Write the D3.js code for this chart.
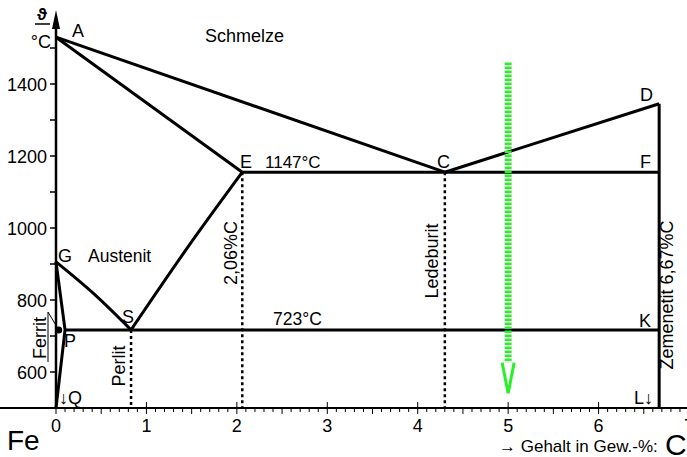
<!DOCTYPE html>
<html>
<head>
<meta charset="utf-8">
<script src="https://cdn.jsdelivr.net/npm/d3@7"></script>
<style>
  body { margin: 0; background: #fff; }
  text { font-family: "Liberation Sans", Arial, sans-serif; fill: #000; }
</style>
</head>
<body>
<div id="chart"></div>
<script>
// Eisen-Kohlenstoff-Diagramm (Ausschnitt)
const xTicks = [0, 1, 2, 3, 4, 5, 6, 7];
const yTicks = [600, 800, 1000, 1200, 1400];

// phase boundaries as drawn: [C-Gehalt %, Temperatur °C]
const lineAC = [[0, 1530], [4.3, 1155]];
const lineCD = [[4.3, 1155], [6.67, 1345]];
const lineAE = [[0, 1530], [2.06, 1155]];
const lineEF = [[2.06, 1155], [6.67, 1155]];
const lineSE = [[0.83, 717], [1.45, 944], [2.06, 1155]];
const lineGS = [[0, 906], [0.42, 817], [0.83, 717]];
const lineGPQ = [[0, 906], [0.1, 717], [0, 500]];
const linePK = [[0.1, 717], [6.67, 717]];
const lineDL = [[6.67, 1345], [6.67, 500]];
const dottedAt = [[0.83, 717], [2.06, 1155], [4.3, 1155]];
const greenPath = [[5, 1460], [5, 626]];

const width = 687, height = 457;

const svg = d3.select("#chart")
    .append("svg")
    .attr("width", width)
    .attr("height", height);

const x = d3.scaleLinear().domain([0, 7]).range([56, 689]);
const y = d3.scaleLinear().domain([500, 1600]).range([408, 12]);

const line = d3.line().x(d => x(d[0])).y(d => y(d[1]));
const curve = d3.line().x(d => x(d[0])).y(d => y(d[1])).curve(d3.curveNatural);

// x axis with minor ticks
svg.append("line")
    .attr("x1", 0).attr("x2", width)
    .attr("y1", y(500)).attr("y2", y(500))
    .attr("stroke", "#000").attr("stroke-width", 2);

const minor = d3.range(0, 71).map(i => i / 10);
svg.append("g").selectAll("line")
    .data(minor)
    .enter().append("line")
    .attr("x1", d => x(d)).attr("x2", d => x(d))
    .attr("y1", d => Math.abs(d - Math.round(d)) < 1e-6 ? y(500) - 6 : y(500))
    .attr("y2", d => Math.abs(d * 2 - Math.round(d * 2)) < 1e-6 ? y(500) + 6 : y(500) + 4)
    .attr("stroke", "#000").attr("stroke-width", 1);

svg.append("g").selectAll("text")
    .data(xTicks)
    .enter().append("text")
    .attr("x", d => x(d))
    .attr("y", 432)
    .attr("text-anchor", "middle")
    .style("font-size", "18px")
    .text(d => d);

// y axis
svg.append("line")
    .attr("x1", x(0)).attr("x2", x(0))
    .attr("y1", y(500)).attr("y2", 26)
    .attr("stroke", "#000").attr("stroke-width", 2.5);
svg.append("path")
    .attr("d", `M${x(0)},10 L${x(0) - 4},29 L${x(0) + 4},29 Z`)
    .attr("fill", "#000");

svg.append("g").selectAll("line")
    .data(d3.range(600, 1600, 100))
    .enter().append("line")
    .attr("x1", x(0) - 6).attr("x2", x(0))
    .attr("y1", d => y(d)).attr("y2", d => y(d))
    .attr("stroke", "#000").attr("stroke-width", 1.5);

svg.append("g").selectAll("text")
    .data(yTicks)
    .enter().append("text")
    .attr("x", 47)
    .attr("y", d => y(d) + 6.5)
    .attr("text-anchor", "end")
    .style("font-size", "18px")
    .text(d => d);

svg.append("text").attr("x", 42).attr("y", 20).attr("text-anchor", "middle")
    .style("font-size", "17px").style("font-weight", "bold").text("ϑ");
svg.append("line").attr("x1", 35).attr("x2", 50).attr("y1", 24).attr("y2", 24)
    .attr("stroke", "#000").attr("stroke-width", 1.5);
svg.append("text").attr("x", 51).attr("y", 48).attr("text-anchor", "end")
    .style("font-size", "18px").text("°C");

// dotted verticals
svg.append("g").selectAll("line")
    .data(dottedAt)
    .enter().append("line")
    .attr("x1", d => x(d[0])).attr("x2", d => x(d[0]))
    .attr("y1", d => y(d[1])).attr("y2", y(500))
    .attr("stroke", "#000").attr("stroke-width", 2.5)
    .attr("stroke-dasharray", "3,3");

// phase lines
const straight = [lineAC, lineCD, lineAE, lineEF, lineGPQ, linePK, lineDL];
svg.append("g").selectAll("path")
    .data(straight)
    .enter().append("path")
    .attr("d", line)
    .attr("fill", "none")
    .attr("stroke", "#000").attr("stroke-width", 3)
    .attr("stroke-linejoin", "miter");

svg.append("g").selectAll("path")
    .data([lineSE, lineGS])
    .enter().append("path")
    .attr("d", curve)
    .attr("fill", "none")
    .attr("stroke", "#000").attr("stroke-width", 3);

// Ferrit dot and leader
svg.append("circle").attr("cx", x(0.03)).attr("cy", y(717)).attr("r", 3.5).attr("fill", "#000");
svg.append("path")
    .attr("d", `M${x(0.03)},${y(717)} L48,312 L48,362`)
    .attr("fill", "none").attr("stroke", "#000").attr("stroke-width", 1);

// green path
svg.append("path")
    .attr("d", line(greenPath))
    .attr("stroke", "#2af02a").attr("stroke-width", 7)
    .attr("stroke-dasharray", "2.5,1.5");
svg.append("path")
    .attr("d", `M${x(5) - 6},${y(626)} L${x(5)},${y(541)} L${x(5) + 6},${y(626)}`)
    .attr("fill", "none")
    .attr("stroke", "#2af02a").attr("stroke-width", 3);

// point labels
const pts = [
    ["A", 72, 37], ["D", 640, 101], ["E", 240, 168], ["C", 437, 168], ["F", 640, 168],
    ["G", 58, 262], ["S", 122, 323], ["K", 639, 327], ["P", 64, 347]
];
svg.append("g").selectAll("text")
    .data(pts)
    .enter().append("text")
    .attr("x", d => d[1]).attr("y", d => d[2])
    .style("font-size", "18px")
    .text(d => d[0]);

const labels = [
    ["Schmelze", 205, 42, 18], ["1147°C", 265, 168, 17], ["Austenit", 88, 262, 17.5],
    ["723°C", 273, 325, 17.5], ["↓Q", 59, 404, 18], ["L↓", 634, 404, 18]
];
svg.append("g").selectAll("text")
    .data(labels)
    .enter().append("text")
    .attr("x", d => d[1]).attr("y", d => d[2])
    .style("font-size", d => d[3] + "px")
    .text(d => d[0]);

// rotated labels
const vlabels = [
    ["2,06%C", 237, 253], ["Ledeburit", 438, 261], ["Perlit", 125, 366],
    ["Ferrit", 46, 338], ["Zemenetit 6,67%C", 673, 295]
];
svg.append("g").selectAll("text")
    .data(vlabels)
    .enter().append("text")
    .attr("transform", d => `translate(${d[1]},${d[2]}) rotate(-90)`)
    .attr("text-anchor", "middle")
    .style("font-size", "18px")
    .text(d => d[0]);

svg.append("text").attr("x", 7).attr("y", 450).style("font-size", "28px").text("Fe");
svg.append("text").attr("x", 499).attr("y", 452).style("font-size", "17px").text("→ Gehalt in Gew.-%:");
svg.append("text").attr("x", 665).attr("y", 455).style("font-size", "30px").text("C");
</script>
</body>
</html>
